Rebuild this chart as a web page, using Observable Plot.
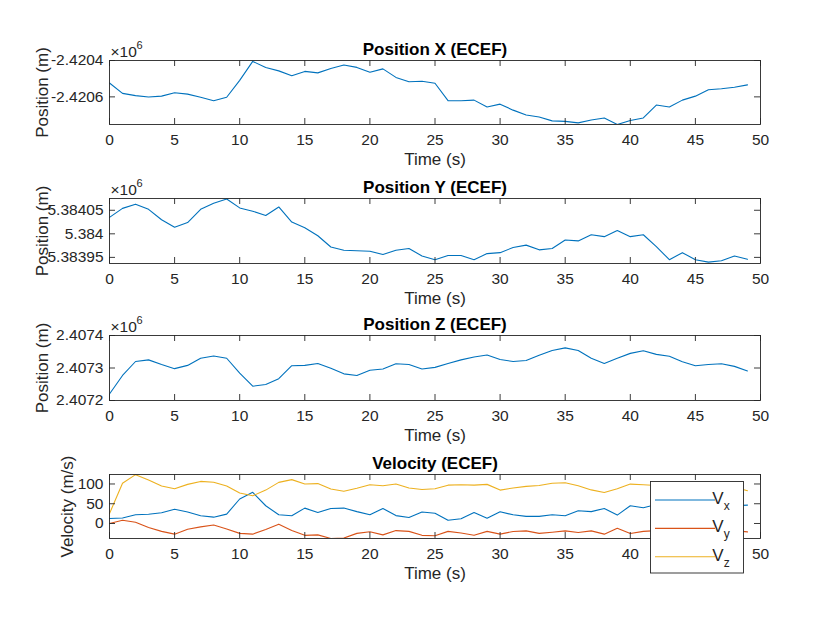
<!DOCTYPE html>
<html><head><meta charset="utf-8">
<script src="https://cdn.jsdelivr.net/npm/d3@7"></script>
<script src="https://cdn.jsdelivr.net/npm/@observablehq/plot@0.6"></script>
<style>
body{margin:0;background:#fff;}
#fig{position:relative;width:840px;height:630px;background:#fff;overflow:hidden;}
#fig svg{position:absolute;left:0;overflow:visible;}
</style></head><body><div id="fig"></div>
<script>
// ---- data ----
const time = [0,1,2,3,4,5,6,7,8,9,10,11,12,13,14,15,16,17,18,19,20,21,22,23,24,25,26,27,28,29,30,31,32,33,34,35,36,37,38,39,40,41,42,43,44,45,46,47,48,49];

const posX = [-2420524,-2420581,-2420593,-2420601,-2420596,-2420577,-2420585,-2420602,-2420621,-2420602,
  -2420509,-2420405,-2420438,-2420457,-2420484,-2420460,-2420468,-2420444,-2420425,-2420438,
  -2420465,-2420446,-2420493,-2420517,-2420514,-2420525,-2420621,-2420621,-2420618,-2420656,
  -2420640,-2420673,-2420700,-2420711,-2420732,-2420735,-2420743,-2420727,-2420716,-2420752,
  -2420730,-2420716,-2420645,-2420656,-2420618,-2420596,-2420561,-2420555,-2420547,-2420534];

const posY = [5384035,5384054,5384063,5384052,5384030,5384014,5384024,5384052,5384065,5384074,
  5384055,5384048,5384039,5384057,5384025,5384013,5383996,5383972,5383965,5383964,
  5383963,5383956,5383965,5383969,5383953,5383945,5383954,5383954,5383945,5383958,
  5383960,5383971,5383976,5383966,5383969,5383987,5383985,5383998,5383994,5384007,
  5383994,5383998,5383973,5383945,5383960,5383945,5383940,5383943,5383953,5383946];

const posZ = [2407220,2407277,2407320,2407325,2407311,2407298,2407308,2407330,2407337,2407330,
  2407284,2407244,2407249,2407267,2407307,2407308,2407314,2407299,2407282,2407277,
  2407293,2407297,2407313,2407311,2407297,2407302,2407314,2407325,2407334,2407340,
  2407326,2407320,2407323,2407339,2407354,2407362,2407354,2407330,2407314,2407330,
  2407345,2407353,2407342,2407336,2407319,2407307,2407311,2407313,2407305,2407291];

const velX = [12.6,14,22,23.5,27,36,29,19.4,16,23.7,62,78.8,44.9,22,19.4,38.9,28,38.1,39,30,
  22,38,20,15.2,29,26,8,12,27.9,13.5,29.6,22,18,18,22,19.4,32.2,30,38,21.2,
  44.9,40,48,45,50,44,48,52,45,46.6];
const velY = [0,8,3,-10,-20,-27,-14.4,-8.5,-4,-14,-25,-27,-15,-1.7,-18,-30,-28.8,-38,-37,-25,
  -21,-28.8,-18,-20,-30,-31,-20,-24,-29.6,-20,-27,-20.3,-18.7,-25,-22,-18.7,-22.8,-18.7,-27,-12,
  -25.4,-20,-18,-22,-17,-24,-19,-23,-18,-21.2];
const velZ = [25,102,123.6,110,95,88,99,106.5,104.5,95,77,70,84.5,104,111,100,101,87.3,81.4,89,
  98,95.5,100,90,86,88,97,98,97,99,84.5,90,94,96,102,103,95.5,85,78.5,88,
  99.7,98,96,99,101,97,95,99,92,83];

const xTicks = [0,5,10,15,20,25,30,35,40,45,50];
const xTickLabels = ["0","5","10","15","20","25","30","35","40","45","50"];

const ticksX = [-2420600,-2420400];
const tickLabelsX = ["-2.4206","-2.4204"];
const ticksY = [5383950,5384000,5384050];
const tickLabelsY = ["5.38395","5.384","5.38405"];
const ticksZ = [2407200,2407300,2407400];
const tickLabelsZ = ["2.4072","2.4073","2.4074"];
const ticksV = [0,50,100];
const tickLabelsV = ["0","50","100"];

const velNames = ["V","V","V"];
const velSubs = ["x","y","z"];
const colors = ["#0072BD","#D95319","#EDB120"];

// ---- layout ----
const FONT = "'Liberation Sans', Arial, Helvetica, sans-serif";
const AX = "#262626";
const W = 840, ML = 109, MR = 80, MT = 40, MB = 50;
const FW = W - ML - MR;
const TL = 6;
const fig = document.getElementById("fig");

function panel(o) {
  const h = o.frameH;
  const txt = {lineAnchor: "middle", textAnchor: "middle", fill: AX};
  const marks = [
    ...o.series.map((s, i) => Plot.lineY(s, {x: time, stroke: o.colors[i], strokeWidth: 1.1, clip: true})),
    Plot.frame({stroke: AX, strokeWidth: 0.9}),
    Plot.tickX(xTicks, {x: d => d, insetTop: h - TL, stroke: AX, strokeWidth: 0.9}),
    Plot.tickX(xTicks, {x: d => d, insetBottom: h - TL, stroke: AX, strokeWidth: 0.9}),
    Plot.tickY(o.yTicks, {y: d => d, insetRight: FW - TL, stroke: AX, strokeWidth: 0.9}),
    Plot.tickY(o.yTicks, {y: d => d, insetLeft: FW - TL, stroke: AX, strokeWidth: 0.9}),
    Plot.text(xTicks, {...txt, x: d => d, frameAnchor: "bottom", dy: 16, text: (d, i) => xTickLabels[i], fontSize: 15.5}),
    Plot.text(o.yTicks, {...txt, y: d => d, frameAnchor: "left", dx: -6, textAnchor: "end", text: (d, i) => o.yLabels[i], fontSize: 15.5}),
    Plot.text([o.title], {...txt, frameAnchor: "top", dy: -11, fontWeight: "bold", fill: "#000", fontSize: 17}),
    Plot.text(["Time (s)"], {...txt, frameAnchor: "bottom", dy: 35, fontSize: 17}),
    Plot.text([o.ylabel], {...txt, frameAnchor: "left", dx: o.ylabelDx, rotate: -90, fontSize: 17})
  ];
  if (o.exponent) {
    marks.push(Plot.text(["×10"], {...txt, frameAnchor: "top-left", textAnchor: "start", dx: 1, dy: -8, fontSize: 15.5}));
    marks.push(Plot.text([o.exponent], {...txt, frameAnchor: "top-left", textAnchor: "start", dx: 27, dy: -15, fontSize: 11}));
  }
  const svg = Plot.plot({
    width: W, height: MT + h + MB,
    marginLeft: ML, marginRight: MR, marginTop: MT, marginBottom: MB,
    style: {fontFamily: FONT, background: "transparent", overflow: "visible"},
    x: {domain: [0, 50], axis: null},
    y: {domain: o.domain, axis: null},
    marks
  });
  svg.style.top = (o.top - MT) + "px";
  fig.appendChild(svg);
  return svg;
}

panel({top: 60, frameH: 64, series: [posX], colors: [colors[0]], domain: [-2420752, -2420400],
  yTicks: ticksX, yLabels: tickLabelsX, title: "Position X (ECEF)", ylabel: "Position (m)", ylabelDx: -67, exponent: "6"});
panel({top: 198, frameH: 65, series: [posY], colors: [colors[0]], domain: [5383937, 5384075],
  yTicks: ticksY, yLabels: tickLabelsY, title: "Position Y (ECEF)", ylabel: "Position (m)", ylabelDx: -67, exponent: "6"});
panel({top: 335, frameH: 65, series: [posZ], colors: [colors[0]], domain: [2407200, 2407400],
  yTicks: ticksZ, yLabels: tickLabelsZ, title: "Position Z (ECEF)", ylabel: "Position (m)", ylabelDx: -67, exponent: "6"});
const vsvg = panel({top: 474, frameH: 64, series: [velX, velY, velZ], colors, domain: [-38, 124],
  yTicks: ticksV, yLabels: tickLabelsV, title: "Velocity (ECEF)", ylabel: "Velocity (m/s)", ylabelDx: -42, exponent: null});

// legend (pixel layout within the velocity panel svg)
const top4 = 474 - MT;
const lg = d3.select(vsvg).append("g").attr("font-family", FONT);
lg.append("rect").attr("x", 650.5).attr("y", 481.5 - top4).attr("width", 93).attr("height", 91.5)
  .attr("fill", "#fff").attr("stroke", AX).attr("stroke-width", 0.9);
velSubs.forEach((s, i) => {
  const y = 500 + i * 28.4 - top4;
  lg.append("line").attr("x1", 655).attr("x2", 715).attr("y1", y).attr("y2", y)
    .attr("stroke", colors[i]).attr("stroke-width", 1.1);
  const t = lg.append("text").attr("x", 721).attr("y", y + 4).attr("fill", AX).attr("font-size", 17).text(velNames[i]);
  t.append("tspan").attr("dy", 6).attr("font-size", 12).text(s);
});
</script></body></html>
